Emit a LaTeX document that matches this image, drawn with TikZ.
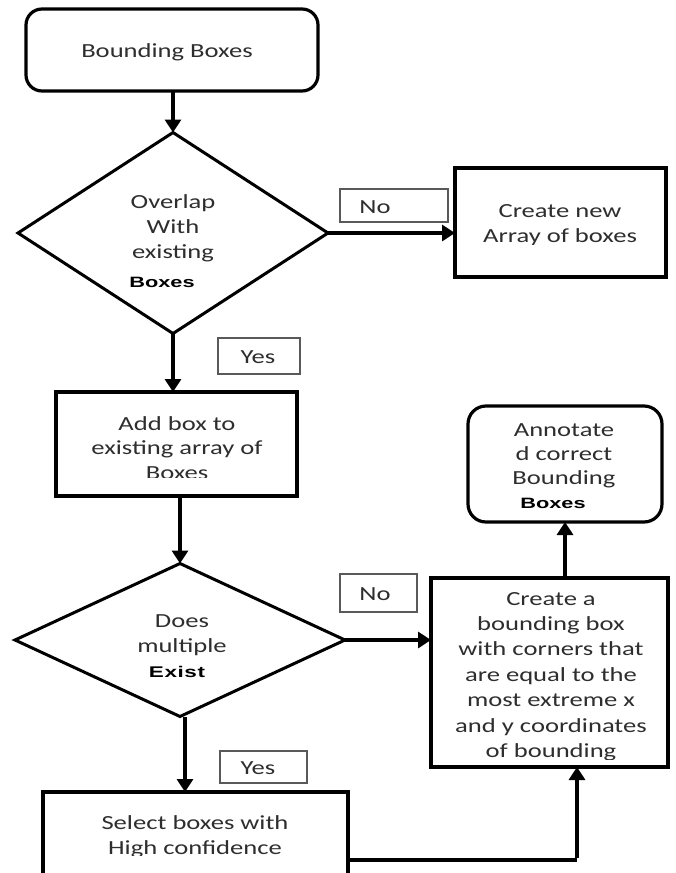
\documentclass[tikz,border=0pt]{standalone}
\usepackage{fontspec}
\setmainfont{Carlito}[FakeStretch=1.33]
\newfontfamily\boldsans{Liberation Sans Bold}[FakeStretch=1.45]
\usetikzlibrary{shapes.geometric,arrows.meta}
\tikzset{
  txt/.style={inner sep=0pt, align=center, text=black!82,
    font=\fontsize{20}{24.8}\selectfont},
  btxt/.style={inner sep=0pt, text=black, font=\boldsans\fontsize{15}{18}\selectfont},
  procbox/.style={draw=black, line width=3.2pt, inner sep=0pt, outer sep=0pt, fill=none},
  termbox/.style={procbox, rounded corners=16pt},
  decision/.style={diamond, draw=black, line width=3pt, inner sep=0pt, outer sep=0pt, aspect=1},
  lblbox/.style={draw=black!65, line width=1.3pt, inner sep=0pt, outer sep=0pt},
  arr/.style={line width=4.5pt, -{Triangle[width=16pt,length=13pt]}},
  conn/.style={line width=4.5pt}
}
\begin{document}
\begin{tikzpicture}[x=1pt,y=-1pt]
\useasboundingbox (0,0) rectangle (676,873);
\clip (0,0) rectangle (676,873);
\fill[white] (0,0) rectangle (676,873);

% start
\node[termbox, minimum width=292pt, minimum height=82pt] (start) at (172,50) {};
\node[txt] (startT) at (167,52) {Bounding Boxes};

% decision 1
\node[decision, minimum width=310pt, minimum height=201pt] (d1) at (173,233) {};
\node[txt] (d1T) at (173,228) {Overlap\\With\\existing};
\node[btxt] (d1B) at (162,282) {Boxes};

% create new array
\node[procbox, minimum width=211pt, minimum height=109pt] (newarr) at (560.5,222.5) {};
\begin{scope}
\clip (455,168) rectangle (666,244.5);
\node[txt] (newarrT) at (560,225.5) {Create new\\Array of boxes};
\end{scope}

% No 1
\node[lblbox, minimum width=108pt, minimum height=33pt] (no1) at (394,205.5) {};
\node[txt] (no1T) at (375,207) {No};

% Yes 1
\node[lblbox, minimum width=82pt, minimum height=36pt] (yes1) at (259,356) {};
\node[txt] (yes1T) at (258,357) {Yes};

% add box
\node[procbox, minimum width=241pt, minimum height=104pt] (add) at (176.5,444) {};
\begin{scope}
\clip (58,394) rectangle (295,477);
\node[txt] (addT) at (177,448) {Add box to\\existing array of\\Boxes};
\end{scope}

% decision 2
\node[decision, minimum width=330pt, minimum height=153pt] (d2) at (180,640) {};
\node[txt] (d2T) at (182,635) {Does\\multiple};
\node[btxt, font=\boldsans\fontsize{15.5}{18}\selectfont] (d2B) at (177,672) {E\kern0.6pt x\kern0.6pt i\kern0.6pt s\kern0.6pt t};

% No 2
\node[lblbox, minimum width=77pt, minimum height=38pt] (no2) at (378.5,593) {};
\node[txt] (no2T) at (375,594) {No};

% create bounding box
\node[procbox, minimum width=237pt, minimum height=189pt] (bbox) at (549.5,672.5) {};
\begin{scope}
\clip (433,580) rectangle (666,759);
\node[txt, font=\fontsize{20}{25.4}\selectfont] (bboxT) at (551,676.5) {Create a\\bounding box\\with corners that\\are equal to the\\most extreme x\\and y coordinates\\of bounding};
\end{scope}

% annotated
\node[termbox, rounded corners=18pt, minimum width=194pt, minimum height=116pt] (ann) at (565,464) {};
\node[txt, font=\fontsize{20}{24}\selectfont] (annT) at (564,456) {Annotate\\d correct\\Bounding};
\node[btxt] (annB) at (553,503) {Boxes};

% Yes 2
\node[lblbox, minimum width=87pt, minimum height=32pt] (yes2) at (263.5,767) {};
\node[txt] (yes2T) at (258,768) {Yes};

% select
\node[procbox, minimum width=305pt, minimum height=130pt] (sel) at (195.5,857) {};
\begin{scope}
\clip (45,794) rectangle (346,855);
\node[txt] (selT) at (195,836.5) {Select boxes with\\High confidence};
\end{scope}

% connectors
\draw[arr] (start.south -| d1.north) -- (d1.north);
\draw[arr] (d1.east) -- (d1.east -| newarr.west);
\draw[arr] (d1.south) -- (d1.south |- add.north);
\draw[arr] (add.south -| d2.north) -- (d2.north);
\draw[arr] (d2.east) -- (d2.east -| bbox.west);
\coordinate (d2s) at (185,717);
\draw[arr] (d2s) -- (d2s |- sel.north);
\coordinate (turn) at (577,860);
\draw[conn] (sel.east |- turn) -- (turn);
\draw[arr] ([yshift=2.25pt]turn) -- (turn |- bbox.south);
\draw[arr] (ann.south |- bbox.north) -- (ann.south);
\end{tikzpicture}
\end{document}
